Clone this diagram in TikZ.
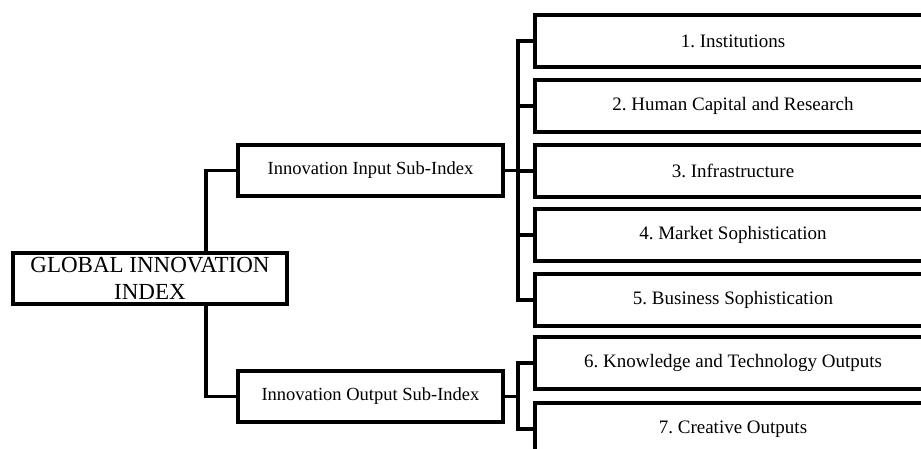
\documentclass[tikz,border=0pt]{standalone}
\usepackage{fontspec}
\setmainfont{Liberation Serif}
\frenchspacing
\begin{document}
\begin{tikzpicture}[x=1pt,y=-1pt,
  box/.style={draw, line width=3.9pt, fill=white, inner sep=0pt, align=center},
  item/.style={box, minimum width=396pt, minimum height=52pt, font=\fontsize{19}{22}\selectfont},
  subidx/.style={box, minimum width=265pt, minimum height=51pt, font=\fontsize{18.5}{22}\selectfont},
  rootbox/.style={box, minimum width=274pt, minimum height=51pt, font=\fontsize{23}{26.5}\selectfont},
  link/.style={line width=3.9pt}]
  \useasboundingbox (0,0) rectangle (921,448);
  \fill[white] (0,0) rectangle (921,448);
  \clip (0,0) rectangle (921,448);

  % root and the two sub-indices
  \node[rootbox] (gii) at (150,278.5) {GLOBAL INNOVATION\\INDEX};
  \node[subidx] (in)  at (370.5,170.5) {Innovation Input Sub-Index};
  \node[subidx] (out) at (370.5,396.5) {Innovation Output Sub-Index};

  % pillars
  \node[item] (i1) at (733,41)  {1. Institutions};
  \node[item] (i2) at (733,106) {2. Human Capital and Research};
  \node[item] (i3) at (733,171) {3. Infrastructure};
  \node[item] (i4) at (733,235) {4. Market Sophistication};
  \node[item] (i5) at (733,300) {5. Business Sophistication};
  \node[item] (i6) at (733,363) {6. Knowledge and Technology Outputs};
  \node[item] (i7) at (733,429) {7. Creative Outputs};

  % root to sub-indices
  \draw[link] (in.west) -- ++(-30,0) coordinate (s1) -- (s1 |- gii.north);
  \draw[link] (out.west) -- ++(-30,0) coordinate (s2) -- (s2 |- gii.south);

  % input bus
  \draw[link] (i1.west) -- ++(-15,0) |- (i5.west);
  \foreach \n in {2,3,4} \draw[link] (i\n.west) -- ++(-15,0);
  \draw[link] (in.east) -- (in.east -| i3.west);

  % output bus
  \draw[link] (i6.west) -- ++(-15,0) coordinate (b6) |- (i7.west);
  \draw[link] (out.east) -- (out.east -| b6);
\end{tikzpicture}
\end{document}
